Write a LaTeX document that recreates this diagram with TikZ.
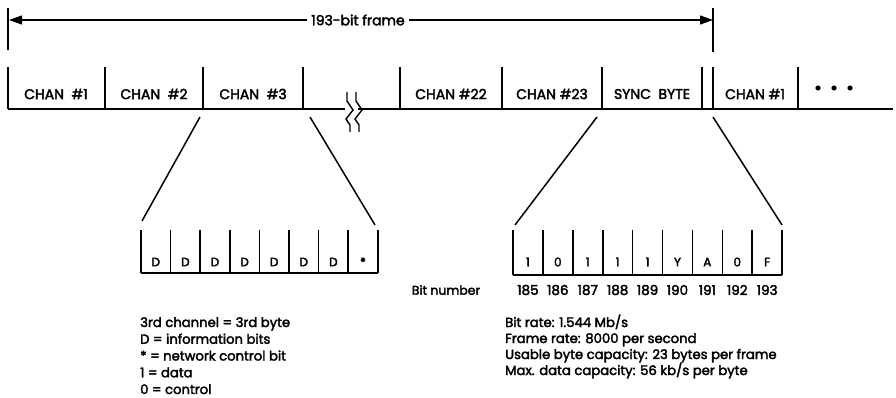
\documentclass[tikz,border=0pt]{standalone}
\usepackage{fontspec}
\setmainfont{Poppins}[FakeBold=2.6]
\usetikzlibrary{arrows.meta, positioning}
\tikzset{
	chantext/.style={
			font=\fontsize{14}{16}\selectfont,
			inner sep=0pt
		},
	bittext/.style={
			font=\fontsize{12}{14}\selectfont,
			inner sep=0pt
		},
	numtext/.style={
			font=\fontsize{13.5}{15}\selectfont,
			inner sep=0pt
		},
	notetext/.style={
			font=\fontsize{13.2}{16.75}\selectfont,
			align=left,
			anchor=base west,
			inner sep=0pt
		},
	divider/.style={
			line width=1.6pt
		},
	fanline/.style={
			line width=1.5pt
		},
	framearrow/.style={
			line width=1.2pt,
			-{Triangle[length=13pt,width=9pt]}
		}
}

\begin{document}
\begin{tikzpicture}[x=1pt, y=-1pt]
\useasboundingbox (0,0) rectangle (896,398);

% frame length
\node[chantext, inner sep=4pt] (frame) at (358,20) {193-bit frame};
\coordinate (fleft) at (9,20);
\coordinate (fright) at (713,20);
\draw[framearrow] (frame.west) -- (fleft);
\draw[framearrow] (frame.east) -- (fright);
\draw[divider] (8,8) -- (8,50);
\draw[divider] (713,8) -- (713,52);

% channel row
\draw[divider] (8,109) -- (345,109);
\draw[divider] (358,109) -- (893,109);
\foreach \x in {8,105,203,303,400,502,602,702,713,798}
  \draw[divider] (\x,67) -- (\x,109);

\node[chantext] (ch1)  at (56,94)  {CHAN\ \ \#1};
\node[chantext] (ch2)  at (154,94) {CHAN\ \ \#2};
\node[chantext] (ch3)  at (253,94) {CHAN\ \ \#3};
\node[chantext] (ch22) at (451,94) {CHAN\ \#22};
\node[chantext] (ch23) at (552,94) {CHAN\ \#23};
\node[chantext] (sync) at (652,94) {SYNC\ \ BYTE};
\node[chantext] (nxt1) at (755,94) {CHAN\ \#1};
\foreach \x in {818,834,850}
  \fill (\x,88) circle (2.6);

% break in the row
\draw[line width=1.4pt] (347,92) -- (347,101) -- (353,110) -- (346,119) -- (350,125) -- (350,132);
\draw[line width=1.4pt] (356,92) -- (356,101) -- (362,110) -- (355,119) -- (359,125) -- (359,132);

% fan out lines
\coordinate (c3l) at (200,117);
\coordinate (c3r) at (310,117);
\coordinate (sbl) at (597,117);
\coordinate (sbr) at (713,117);
\coordinate (dl) at (142,221);
\coordinate (dr) at (375,225);
\coordinate (bl) at (515,225);
\coordinate (br) at (782,225);
\draw[fanline] (c3l) -- (dl);
\draw[fanline] (c3r) -- (dr);
\draw[fanline] (sbl) -- (bl);
\draw[fanline] (sbr) -- (br);

% byte of channel 3
\draw[divider] (141,273) -- (378,273);
\foreach \i in {0,...,8}
  \draw[divider] ({141+29.6*\i},230) -- ++(0,43);
\foreach \lbl [count=\i] in {D,D,D,D,D,D,D,*}
  \node[bittext] (d\i) at ({141+29.6*(\i-0.5)},262) {\lbl};

% sync byte bits
\draw[divider] (513,275) -- (782,275);
\foreach \i in {0,...,9}
  \draw[divider] ({513+29.9*\i},230) -- ++(0,45);
\foreach \lbl [count=\i] in {1,0,1,1,1,Y,A,0,F}
  \node[bittext] (s\i) at ({513+29.9*(\i-0.5)},262) {\lbl};
\foreach \n [count=\i] in {185,...,193}
  \node[numtext] (n\i) at ({513+29.9*(\i-0.5)},290) {\n};
\node[bittext, font=\fontsize{12.5}{14}\selectfont] (bitnum) at (446,290) {Bit number};

% notes
\node[notetext] (leftnote) at (140,394) {3rd channel = 3rd byte\\D = information bits\\* = network control bit\\1 = data\\0 = control};
\node[notetext, font=\fontsize{13.2}{16}\selectfont] (rightnote) at (505,375) {Bit rate: 1.544 Mb/s\\Frame rate: 8000 per second\\Usable byte capacity: 23 bytes per frame\\Max. data capacity: 56 kb/s per byte};

\end{tikzpicture}
\end{document}
